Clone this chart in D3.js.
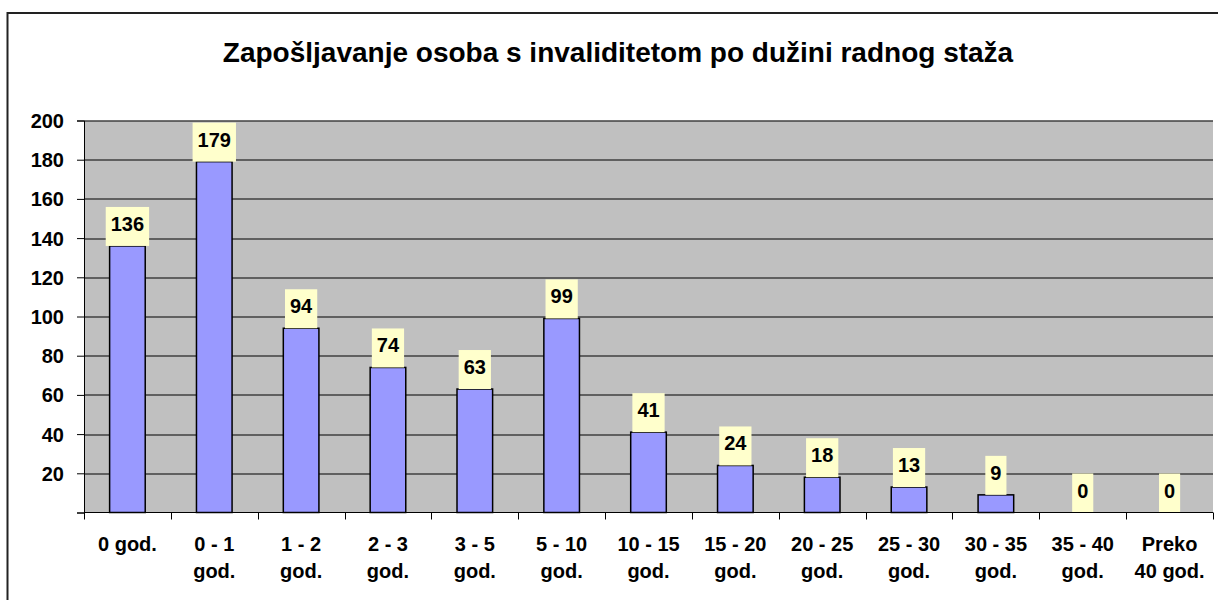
<!DOCTYPE html>
<html>
<head>
<meta charset="utf-8">
<script src="https://cdnjs.cloudflare.com/ajax/libs/d3/7.8.5/d3.min.js"></script>
<style>
  body { margin: 0; background: #fff; }
  svg text { font-family: "Liberation Sans", Arial, sans-serif; font-weight: bold; fill: #000; }
</style>
</head>
<body>
<div id="chart"></div>
<script>
var title = "Zapošljavanje osoba s invaliditetom po dužini radnog staža";
var categories = [
    ["0 god."], ["0 - 1", "god."], ["1 - 2", "god."], ["2 - 3", "god."],
    ["3 - 5", "god."], ["5 - 10", "god."], ["10 - 15", "god."], ["15 - 20", "god."],
    ["20 - 25", "god."], ["25 - 30", "god."], ["30 - 35", "god."], ["35 - 40", "god."],
    ["Preko", "40 god."]
];
var values = [136, 179, 94, 74, 63, 99, 41, 24, 18, 13, 9, 0, 0];
var yTicks = [0, 20, 40, 60, 80, 100, 120, 140, 160, 180, 200];

var W = 1218, H = 600;
var margin = {top: 120.5, right: 5, bottom: 87.5, left: 84},
    width = W - margin.left - margin.right,
    height = H - margin.top - margin.bottom;

var svg = d3.select("#chart")
    .append("svg")
    .attr("width", W)
    .attr("height", H);

// outer frame
svg.append("rect")
    .attr("x", 7.5).attr("y", 13)
    .attr("width", W + 20).attr("height", H + 20)
    .attr("fill", "none")
    .attr("stroke", "#222")
    .attr("stroke-width", 2);

svg.append("text")
    .attr("x", 618).attr("y", 62)
    .attr("text-anchor", "middle")
    .style("font-size", "28px")
    .text(title);

var g = svg.append("g")
    .attr("transform", "translate(" + margin.left + "," + margin.top + ")");

var idx = values.map(function(d, i){ return i; });
var x = d3.scaleBand().domain(idx).range([0, width]).padding(0);
var y = d3.scaleLinear().domain([0, 200]).range([height, 0]);

g.append("rect")
    .attr("width", width).attr("height", height)
    .attr("fill", "#C0C0C0");

// gridlines
g.selectAll(".grid")
    .data(yTicks.filter(function(d){ return d > 0; }))
    .enter().append("line")
    .attr("x1", 0).attr("x2", width)
    .attr("y1", function(d){ return Math.round(y(d)) + 0.5; })
    .attr("y2", function(d){ return Math.round(y(d)) + 0.5; })
    .attr("stroke", "#000");

var barW = x.bandwidth() * 0.41;

g.selectAll(".bar")
    .data(values)
    .enter().append("rect")
    .attr("class", "bar")
    .attr("x", function(d, i){ return x(i) + (x.bandwidth() - barW) / 2; })
    .attr("width", barW)
    .attr("y", function(d){ return y(d); })
    .attr("height", function(d){ return height - y(d); })
    .attr("fill", "#9999FF")
    .attr("stroke", "#000")
    .attr("stroke-width", 1.5)
    .style("display", function(d){ return d > 0 ? null : "none"; });

// value labels
var lab = g.selectAll(".lab")
    .data(values)
    .enter().append("g")
    .attr("class", "lab")
    .attr("transform", function(d, i){
        return "translate(" + (x(i) + x.bandwidth() / 2) + "," + y(d) + ")";
    });

lab.append("rect").attr("fill", "#FFFFCC");
lab.append("text")
    .attr("text-anchor", "middle")
    .attr("y", -15)
    .style("font-size", "20px")
    .text(function(d){ return d; });

lab.each(function(){
    var t = d3.select(this).select("text").node().getComputedTextLength();
    d3.select(this).select("rect")
        .attr("x", -t / 2 - 5).attr("width", t + 10)
        .attr("y", -39).attr("height", 39);
});

// y axis
var yAxis = d3.axisLeft(y).tickValues(yTicks).tickSize(7).tickPadding(13)
    .tickFormat(function(d){ return d === 0 ? "" : d; });
var ya = g.append("g").call(yAxis);
ya.select(".domain").attr("stroke", "#000");
ya.selectAll("text").style("font-size", "20px").attr("dy", "0.35em");

// x axis
var xa = g.append("g").attr("transform", "translate(0," + height + ")");
xa.append("line").attr("x1", 0).attr("x2", width).attr("stroke", "#000");
xa.selectAll(".tk")
    .data(d3.range(values.length + 1))
    .enter().append("line")
    .attr("x1", function(d){ return Math.round(d * x.step()) + 0.5; })
    .attr("x2", function(d){ return Math.round(d * x.step()) + 0.5; })
    .attr("y1", 0).attr("y2", 7)
    .attr("stroke", "#000");

var xl = xa.selectAll(".xl")
    .data(categories)
    .enter().append("text")
    .attr("text-anchor", "middle")
    .attr("transform", function(d, i){ return "translate(" + (x(i) + x.bandwidth() / 2) + ",0)"; })
    .style("font-size", "20px");
xl.selectAll("tspan")
    .data(function(d){ return d; })
    .enter().append("tspan")
    .attr("x", 0)
    .attr("y", function(d, j){ return 38 + j * 27; })
    .text(function(d){ return d; });
</script>
</body>
</html>
